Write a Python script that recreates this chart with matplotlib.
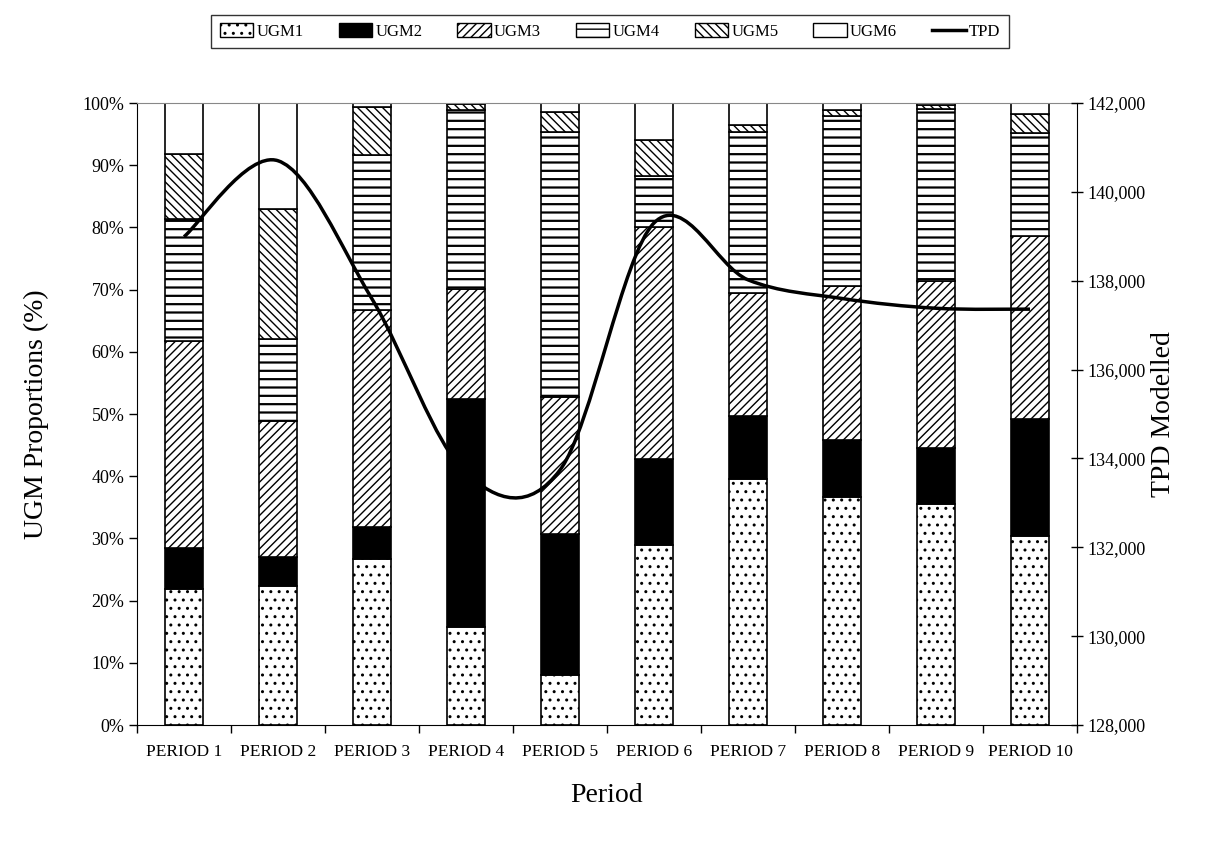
import matplotlib
matplotlib.use("Agg")
import matplotlib.pyplot as plt
from matplotlib.patches import Patch, PathPatch
from matplotlib.lines import Line2D
from matplotlib.path import Path
from matplotlib.ticker import FuncFormatter, MultipleLocator, FixedLocator
import numpy as np

plt.rcParams['font.family'] = ['Liberation Serif', 'DejaVu Serif']
plt.rcParams['hatch.linewidth'] = 1.0

periods = ["PERIOD 1", "PERIOD 2", "PERIOD 3", "PERIOD 4", "PERIOD 5",
           "PERIOD 6", "PERIOD 7", "PERIOD 8", "PERIOD 9", "PERIOD 10"]
ugm1 = [21.9, 22.3, 26.7, 15.8, 8.0, 28.9, 39.6, 36.7, 35.5, 30.4]
ugm2 = [6.6, 4.7, 5.1, 36.6, 22.7, 13.9, 10.0, 9.1, 9.1, 18.8]
ugm3 = [33.2, 21.9, 34.9, 17.7, 22.0, 37.3, 19.9, 24.8, 26.8, 29.4]
ugm4 = [19.6, 13.1, 24.9, 28.8, 42.6, 8.2, 25.8, 27.3, 27.6, 16.5]
ugm5 = [10.5, 21.0, 7.8, 1.0, 3.3, 5.8, 1.1, 0.9, 0.7, 3.1]
ugm6 = [8.2, 17.0, 0.6, 0.1, 1.4, 5.9, 3.6, 1.2, 0.3, 1.8]
tpd = [138990, 140700, 137590, 133670, 133740, 139300, 138020, 137600, 137380, 137360]

series_names = ["UGM1", "UGM2", "UGM3", "UGM4", "UGM5", "UGM6"]
series_vals = [ugm1, ugm2, ugm3, ugm4, ugm5, ugm6]
styles = [
    dict(facecolor="white", hatch="..", hlw=1.0),
    dict(facecolor="black", hatch=None, hlw=1.0),
    dict(facecolor="white", hatch="////", hlw=1.0),
    dict(facecolor="white", hatch="--", hlw=1.6),
    dict(facecolor="white", hatch="\\\\\\\\", hlw=1.0),
    dict(facecolor="white", hatch=None, hlw=1.0),
]


def set_hlw(artist, lw):
    if hasattr(artist, "set_hatch_linewidth"):
        try:
            artist.set_hatch_linewidth(lw)
        except Exception:
            pass


fig = plt.figure(figsize=(12.22, 8.48), dpi=100)
ax = fig.add_axes([137/1222, 1-725/848, (1077-137)/1222, (725-103)/848])

x = np.arange(len(periods))
bottom = np.zeros(len(periods))
for name, vals, st in zip(series_names, series_vals, styles):
    vals = np.array(vals)
    bars = ax.bar(x, vals, 0.4, bottom=bottom, facecolor=st["facecolor"],
                  hatch=st["hatch"], edgecolor="black", linewidth=1.2, zorder=2)
    for b in bars:
        set_hlw(b, st["hlw"])
    bottom += vals

ax.set_xlim(-0.5, len(periods) - 0.5)
ax.set_ylim(0, 100)
ax.yaxis.set_major_locator(MultipleLocator(10))
ax.yaxis.set_major_formatter(FuncFormatter(lambda v, p: f"{v:.0f}%"))
ax.xaxis.set_major_locator(FixedLocator(np.arange(-0.5, len(periods), 1.0)))
ax.xaxis.set_major_formatter(FuncFormatter(lambda v, p: ""))
ax.xaxis.set_minor_locator(FixedLocator(x))
ax.set_xticklabels(periods, minor=True)
ax.tick_params(axis="x", which="major", length=6, direction="out", width=1)
ax.tick_params(axis="x", which="minor", length=0, labelsize=12.5, pad=14)
ax.tick_params(axis="y", length=6, direction="out", labelsize=13, width=1, pad=3)
ax.spines["top"].set_color("#888888")
ax.spines["right"].set_visible(False)
ax.set_ylabel("UGM Proportions (%)", fontsize=20, labelpad=24)
ax.set_xlabel("Period", fontsize=20, labelpad=16)

ax2 = ax.twinx()
ax2.set_ylim(128000, 142000)
ax2.yaxis.set_major_locator(MultipleLocator(2000))
ax2.yaxis.set_major_formatter(FuncFormatter(lambda v, p: f"{v:,.0f}"))
ax2.tick_params(axis="y", length=8, direction="inout", labelsize=13, width=1)
ax2.spines["top"].set_visible(False)
ax2.spines["left"].set_visible(False)
ax2.spines["bottom"].set_visible(False)
ax2.set_ylabel("TPD Modelled", fontsize=20, labelpad=4)

# smoothed line (Catmull-Rom as cubic Bezier) through the TPD values
pts = np.column_stack([x.astype(float), np.array(tpd, dtype=float)])
ext = np.vstack([pts[0], pts, pts[-1]])
verts = [tuple(pts[0])]
codes = [Path.MOVETO]
for i in range(len(pts) - 1):
    p0, p1, p2, p3 = ext[i], ext[i + 1], ext[i + 2], ext[i + 3]
    c1 = p1 + (p2 - p0) / 6.0
    c2 = p2 - (p3 - p1) / 6.0
    verts += [tuple(c1), tuple(c2), tuple(p2)]
    codes += [Path.CURVE4] * 3
ax2.add_patch(PathPatch(Path(verts, codes), facecolor="none", edgecolor="black",
                        linewidth=2.5, zorder=5, capstyle="butt"))

handles = []
for n, st in zip(series_names, styles):
    h = Patch(facecolor=st["facecolor"], hatch=st["hatch"], edgecolor="black",
              linewidth=1.0, label=n)
    set_hlw(h, st["hlw"])
    handles.append(h)
handles.append(Line2D([], [], color="black", linewidth=2.5, label="TPD"))
leg = fig.legend(handles=handles, loc="upper center", bbox_to_anchor=(610/1222, 0.992),
                 ncol=7, fontsize=12, frameon=True, fancybox=False, edgecolor="black",
                 handlelength=2.0, handleheight=0.9, handletextpad=0.2, columnspacing=2.1,
                 borderpad=0.5)
leg.get_frame().set_linewidth(1.0)

fig.savefig("out.png", dpi=100)
